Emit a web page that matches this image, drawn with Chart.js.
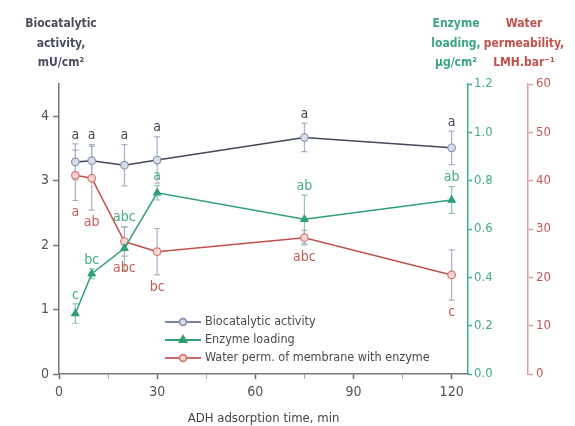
<!DOCTYPE html>
<html>
<head>
<meta charset="utf-8">
<script src="https://cdn.jsdelivr.net/npm/chart.js@4/dist/chart.umd.min.js"></script>
<style>
  html, body { margin: 0; padding: 0; background: #ffffff; }
  #wrap { width: 575px; height: 426px; }
</style>
</head>
<body>
<div id="wrap"><canvas id="c" width="575" height="426"></canvas></div>
<script>
// Adsorption times (min)
const times = [5, 10, 20, 30, 75, 120];

// Biocatalytic activity, mU/cm2 (mean and SD)
const activity    = [3.29, 3.31, 3.24, 3.32, 3.67, 3.51];
const activityErr = [0.28, 0.25, 0.32, 0.36, 0.22, 0.26];

// Enzyme loading, ug/cm2
const loading    = [0.25, 0.415, 0.52, 0.75, 0.64, 0.72];
const loadingErr = [0.04, 0.02, 0.09, 0.03, 0.10, 0.055];

// Water permeability of membrane with enzyme, LMH/bar
const permeability = [41.1, 40.5, 27.4, 25.3, 28.2, 20.5];
const permErr      = [5.2, 6.6, 3.0, 4.8, 1.5, 5.2];

// Statistical grouping letters
const activityLetters = ['a', 'a', 'a', 'a', 'a', 'a'];
const loadingLetters  = ['c', 'bc', 'abc', 'a', 'ab', 'ab'];
const permLetters     = ['a', 'ab', 'abc', 'bc', 'abc', 'c'];

// Axis ticks
const xTicks = [0, 30, 60, 90, 120];
const xMinorTicks = [15, 45, 75, 105];
const activityTicks = [0, 1, 2, 3, 4];

const FONT = '"Liberation Sans Narrow", "DejaVu Sans Condensed", "Liberation Sans", sans-serif';
const C_ACT = '#44475a', C_ACT_PT = '#8a92ae', C_ACT_FILL = '#d6dcea', C_ACT_ERR = '#a9b1c8';
const C_LOAD = '#2f9f74', C_LOAD_TXT = '#45ab84', C_LOAD_ERR = '#86c9ad';
const C_PERM = '#c0514b', C_PERM_TXT = '#c45a54', C_PERM_FILL = '#f7d4cd', C_PERM_AXIS = '#d9a09d';

const pts = (ys) => times.map((t, i) => ({ x: t, y: ys[i] }));

const datasets = [
  {
    label: 'Biocatalytic activity', data: pts(activity), yAxisID: 'y',
    borderColor: C_ACT, borderWidth: 1.5, pointStyle: 'circle', pointRadius: 3.8,
    pointBackgroundColor: C_ACT_FILL, pointBorderColor: C_ACT_PT, pointBorderWidth: 1.2,
    legendColor: '#7b84a2', err: activityErr, errColor: C_ACT_ERR,
    letters: activityLetters, letterColor: C_ACT, letterSide: 'above'
  },
  {
    label: 'Enzyme loading', data: pts(loading), yAxisID: 'yLoad',
    borderColor: C_LOAD, borderWidth: 1.5, pointStyle: 'triangle', pointRadius: 4.5,
    pointBackgroundColor: C_LOAD, pointBorderColor: C_LOAD, pointBorderWidth: 1,
    legendColor: C_LOAD, err: loadingErr, errColor: C_LOAD_ERR,
    letters: loadingLetters, letterColor: C_LOAD_TXT, letterSide: 'above'
  },
  {
    label: 'Water perm. of membrane with enzyme', data: pts(permeability), yAxisID: 'yPerm',
    borderColor: C_PERM, borderWidth: 1.5, pointStyle: 'circle', pointRadius: 3.8,
    pointBackgroundColor: C_PERM_FILL, pointBorderColor: '#d2766f', pointBorderWidth: 1.2,
    legendColor: '#c96a64', err: permErr, errColor: C_ACT_ERR,
    letters: permLetters, letterColor: C_PERM_TXT, letterSide: 'below'
  }
];

// Vertical error bars with caps, drawn beneath the lines
const errorBars = {
  id: 'errorBars',
  beforeDatasetsDraw(chart) {
    const ctx = chart.ctx, xs = chart.scales.x;
    chart.data.datasets.forEach((ds) => {
      const ys = chart.scales[ds.yAxisID];
      ctx.save();
      ctx.strokeStyle = ds.errColor;
      ctx.lineWidth = 1.2;
      ds.data.forEach((p, i) => {
        const px = xs.getPixelForValue(p.x);
        const top = ys.getPixelForValue(p.y + ds.err[i]);
        const bot = ys.getPixelForValue(p.y - ds.err[i]);
        ctx.beginPath();
        ctx.moveTo(px, top); ctx.lineTo(px, bot);
        ctx.moveTo(px - 3, top); ctx.lineTo(px + 3, top);
        ctx.moveTo(px - 3, bot); ctx.lineTo(px + 3, bot);
        ctx.stroke();
      });
      ctx.restore();
    });
  }
};

// Grouping letters above/below each error bar
const letterLabels = {
  id: 'letterLabels',
  afterDatasetsDraw(chart) {
    const ctx = chart.ctx, xs = chart.scales.x;
    ctx.save();
    ctx.font = '14px ' + FONT;
    ctx.textAlign = 'center';
    ctx.textBaseline = 'middle';
    chart.data.datasets.forEach((ds) => {
      const ys = chart.scales[ds.yAxisID];
      ctx.fillStyle = ds.letterColor;
      ds.data.forEach((p, i) => {
        const px = xs.getPixelForValue(p.x);
        let py;
        if (ds.letterSide === 'above') py = ys.getPixelForValue(p.y + ds.err[i]) - 9;
        else py = ys.getPixelForValue(p.y - ds.err[i]) + 12;
        ctx.fillText(ds.letters[i], px, py);
      });
    });
    ctx.restore();
  }
};

// Legend inside the plot, lower right
const innerLegend = {
  id: 'innerLegend',
  afterDraw(chart) {
    const ctx = chart.ctx, area = chart.chartArea;
    const x0 = area.left + 106, x1 = x0 + 36, y0 = area.bottom - 52, dy = 18;
    ctx.save();
    ctx.font = '12.5px ' + FONT;
    ctx.textBaseline = 'middle';
    chart.data.datasets.forEach((ds, i) => {
      const y = y0 + i * dy;
      ctx.strokeStyle = ds.legendColor;
      ctx.lineWidth = 2;
      ctx.beginPath(); ctx.moveTo(x0, y); ctx.lineTo(x1, y); ctx.stroke();
      Chart.helpers.drawPoint(ctx, {
        pointStyle: ds.pointStyle, radius: ds.pointRadius - 0.6, borderWidth: ds.pointBorderWidth
      }, (x0 + x1) / 2, y);
      ctx.fillStyle = ds.pointBackgroundColor;
      ctx.strokeStyle = ds.pointBorderColor;
      ctx.lineWidth = ds.pointBorderWidth;
      ctx.fill(); ctx.stroke();
      ctx.fillStyle = '#4a4a4a';
      ctx.fillText(ds.label, x1 + 4, y);
    });
    ctx.restore();
  }
};

// Axis titles stacked above each vertical axis
const axisTitles = {
  id: 'axisTitles',
  afterDraw(chart) {
    const ctx = chart.ctx, top = chart.chartArea.top, s = chart.scales;
    const blocks = [
      { cx: s.y.right + 2, color: '#4a4d60', lines: ['Biocatalytic', 'activity,', 'mU/cm\u00B2'] },
      { cx: s.yLoad.left - 12, color: '#3aa67e', lines: ['Enzyme', 'loading,', '\u03BCg/cm\u00B2'] },
      { cx: s.yPerm.left - 4, color: '#c0514b', lines: ['Water', 'permeability,', 'LMH.bar\u207B\u00B9'] }
    ];
    ctx.save();
    ctx.font = 'bold 12px ' + FONT;
    ctx.textAlign = 'center';
    ctx.textBaseline = 'middle';
    blocks.forEach((b) => {
      ctx.fillStyle = b.color;
      b.lines.forEach((t, i) => ctx.fillText(t, b.cx, top - 60 + i * 19.5));
    });
    ctx.restore();
  }
};

const setTicks = (values) => (scale) => {
  scale.ticks = values.map((v) => ({ value: v }));
};

new Chart(document.getElementById('c'), {
  type: 'line',
  data: { datasets },
  plugins: [errorBars, letterLabels, innerLegend, axisTitles],
  options: {
    responsive: false,
    animation: false,
    layout: { padding: { top: 84, left: 0, right: 0, bottom: 0 } },
    elements: { line: { tension: 0 } },
    plugins: { legend: { display: false }, tooltip: { enabled: false } },
    scales: {
      x: {
        type: 'linear', position: 'bottom', min: 0, max: 125,
        afterBuildTicks: setTicks(xTicks.concat(xMinorTicks).sort((a, b) => a - b)),
        ticks: {
          autoSkip: false, maxRotation: 0, color: '#555', padding: 5,
          font: { family: FONT, size: 14 },
          callback: (v) => (xTicks.includes(v) ? String(v) : '')
        },
        grid: {
          drawOnChartArea: false, tickLength: 5,
          tickColor: (c) => (c.tick && xTicks.includes(c.tick.value) ? '#666' : '#aaa'),
          tickWidth: (c) => (c.tick && xTicks.includes(c.tick.value) ? 1.5 : 1)
        },
        border: { color: '#777', width: 1.5 },
        title: {
          display: true, text: 'ADH adsorption time, min', color: '#444',
          font: { family: FONT, size: 13 }, padding: { top: 4, bottom: 0 }
        },
        afterFit: (s) => { s.height = 52; }
      },
      y: {
        position: 'left', min: 0, max: 4.5,
        afterBuildTicks: setTicks(activityTicks),
        ticks: { color: '#555', padding: 4, font: { family: FONT, size: 14 } },
        grid: { drawOnChartArea: false, tickLength: 6, tickColor: '#777', tickWidth: 1.5 },
        border: { color: '#777', width: 1.5 },
        afterFit: (s) => { s.width = 59; }
      },
      yLoad: {
        position: 'right', weight: 0, min: 0, max: 1.2,
        ticks: {
          stepSize: 0.2, color: C_LOAD_TXT, padding: 2, font: { family: FONT, size: 13 },
          callback: (v) => Number(v).toFixed(1)
        },
        grid: { drawOnChartArea: false, tickLength: 4, tickColor: '#3cae8a', tickWidth: 1.5 },
        border: { color: '#3cae8a', width: 1.5 },
        afterFit: (s) => { s.width = 60; }
      },
      yPerm: {
        position: 'right', weight: 1, min: 0, max: 60,
        ticks: { stepSize: 10, color: C_PERM_TXT, padding: 3, font: { family: FONT, size: 13 } },
        grid: { drawOnChartArea: false, tickLength: 5, tickColor: C_PERM_AXIS, tickWidth: 1.5 },
        border: { color: C_PERM_AXIS, width: 1.5 },
        afterFit: (s) => { s.width = 47; }
      }
    }
  }
});
</script>
</body>
</html>
